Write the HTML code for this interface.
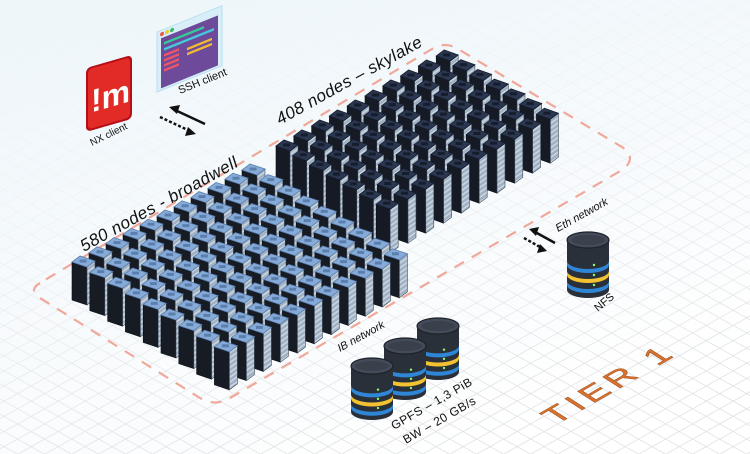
<!DOCTYPE html>
<html><head><meta charset="utf-8"><style>
html,body{margin:0;padding:0;background:#fff;}
svg{display:block;font-family:"Liberation Sans",sans-serif;}
</style></head><body>
<svg id="s" width="750" height="454" viewBox="0 0 750 454" xmlns="http://www.w3.org/2000/svg">
<defs>
<linearGradient id="bg" x1="0" y1="0" x2="0.6" y2="1">
<stop offset="0" stop-color="#e1f0f8"/><stop offset="0.5" stop-color="#f5f9fc"/><stop offset="1" stop-color="#ffffff"/>
</linearGradient>
<pattern id="str" width="4" height="4" patternUnits="userSpaceOnUse" patternTransform="rotate(-35)">
<rect width="4" height="4" fill="#9fb0c2"/><rect width="4" height="1.6" fill="#c9d5e0"/>
</pattern>
<linearGradient id="fade" x1="0" y1="0" x2="0.3" y2="1">
<stop offset="0" stop-color="#eef6fa" stop-opacity="1"/><stop offset="0.45" stop-color="#f6fafc" stop-opacity="0.7"/><stop offset="1" stop-color="#fff" stop-opacity="0"/>
</linearGradient>
</defs>
<rect width="750" height="454" fill="url(#bg)"/>
<g id="grid" stroke="#dfe2e5" stroke-width="0.8"></g>
<rect width="750" height="454" fill="url(#fade)"/>
<path d="M40,283 Q28,290 40,298 L200,398 Q215,407 230,398 L622,170 Q638,158 622,147 L458,49 Q445,41 432,49 Z" fill="none" stroke="#f0a89a" stroke-width="2.2" stroke-dasharray="11 9"/>
<g id="racks"></g>

<!-- labels -->
<text transform="translate(84,252) rotate(-29)" font-size="17" font-style="italic" fill="#111" letter-spacing="0.5">580 nodes - broadwell</text>
<text transform="translate(280,125) rotate(-29)" font-size="17" font-style="italic" fill="#111" letter-spacing="0.5">408 nodes – skylake</text>
<text transform="translate(340,352) rotate(-29)" font-size="11" font-style="italic" fill="#111">IB network</text>
<text transform="translate(558,232) rotate(-29)" font-size="11" font-style="italic" fill="#111">Eth network</text>
<text transform="translate(598,312) rotate(-40)" font-size="11" fill="#111">NFS</text>
<text transform="translate(394,430) rotate(-30)" font-size="12" fill="#111" letter-spacing="0.5">GPFS – 1,3 PiB</text>
<text transform="translate(406,444) rotate(-30)" font-size="12" fill="#111" letter-spacing="0.5">BW – 20 GB/s</text>
<text transform="matrix(0.866,-0.5,0.7,0.45,556,425)" font-size="36" fill="#d9722e" letter-spacing="5" stroke="#9a4a18" stroke-width="0.6">TIER 1</text>

<!-- NX client -->
<g transform="translate(86,62) skewY(-16)">
<rect x="0" y="6" width="46" height="64" rx="5" fill="#b40f18"/>
<rect x="2" y="8" width="42" height="60" rx="4" fill="#e22a26"/>
<text x="5" y="52" font-size="32" font-weight="bold" fill="#fff">!m</text>
</g>
<text transform="translate(92,146) rotate(-26)" font-size="10" fill="#111">NX client</text>
<!-- SSH client -->
<g transform="translate(157,32) skewY(-22)">
<rect x="0" y="0" width="65" height="60" fill="#d8eef8" stroke="#b7dff0"/>
<rect x="4" y="8" width="57" height="50" fill="#6d4a9a"/>
<circle cx="5" cy="4" r="2" fill="#e54"/><circle cx="10" cy="4" r="2" fill="#ec3"/><circle cx="15" cy="4" r="2" fill="#3b6"/>
<rect x="7" y="13" width="40" height="2.5" fill="#3c9"/>
<rect x="7" y="19" width="50" height="2.5" fill="#4cd"/>
<rect x="7" y="25" width="15" height="2.5" fill="#e56"/><rect x="7" y="30" width="15" height="2.5" fill="#e56"/><rect x="7" y="35" width="15" height="2.5" fill="#e56"/><rect x="7" y="40" width="15" height="2.5" fill="#e56"/>
<rect x="30" y="28" width="25" height="2.5" fill="#eb3"/><rect x="30" y="33" width="25" height="2.5" fill="#eb3"/>
</g>
<text transform="translate(180,94) rotate(-22)" font-size="11" fill="#111">SSH client</text>
<!-- arrows -->
<g stroke="#111" stroke-width="2.5" fill="#111">
<line x1="175" y1="110" x2="205" y2="124"/><polygon points="169,107 180,105 177,114" stroke="none"/>
<line x1="160" y1="117" x2="190" y2="131" stroke-dasharray="3 2"/><polygon points="196,134 185,136 188,127" stroke="none"/>
<line x1="535" y1="232" x2="555" y2="243"/><polygon points="529,229 539,227 536,236" stroke="none"/>
<line x1="524" y1="238" x2="540" y2="247" stroke-dasharray="3 2"/><polygon points="547,251 537,253 540,244" stroke="none"/>
</g>
<g id="dbs"></g>
</svg>
<script>
var NS="http://www.w3.org/2000/svg";
function el(p,t,a){var e=document.createElementNS(NS,t);for(var k in a)e.setAttribute(k,a[k]);p.appendChild(e);return e;}
var g=document.getElementById('grid');
for(var c=-900;c<1500;c+=27){
 el(g,'line',{x1:c,y1:0,x2:c+820,y2:460});
 el(g,'line',{x1:c,y1:454,x2:c+820,y2:454-460});
}
var R=document.getElementById('racks');
function pts(a){return a.map(function(p){return p[0].toFixed(1)+','+p[1].toFixed(1)}).join(' ');}
function rack(F,a,b,h,top,topd,front){
 var x=F[0],y=F[1];
 var A=[x,y],B=[x+a[0],y+a[1]],C=[x+a[0]+b[0],y+a[1]+b[1]],D=[x+b[0],y+b[1]];
 el(R,'polygon',{points:pts([A,B,[B[0],B[1]+h],[A[0],A[1]+h]]),fill:front,stroke:'#0b0f16','stroke-width':0.6});
 el(R,'polygon',{points:pts([B,C,[C[0],C[1]+h],[B[0],B[1]+h]]),fill:'url(#str)',stroke:'#3a4656','stroke-width':0.6});
 el(R,'polygon',{points:pts([A,B,C,D]),fill:top,stroke:topd,'stroke-width':0.8});
 var mx=(A[0]+C[0])/2,my=(A[1]+C[1])/2;
 el(R,'rect',{x:mx-4,y:my-2,width:7,height:3,fill:topd});
}
function block(F0,di,dj,ni,nj,a,b,h,top,topd,front){
 var L=[];
 for(var i=0;i<ni;i++)for(var j=0;j<nj;j++)L.push([F0[0]+i*di[0]+j*dj[0],F0[1]+i*di[1]+j*dj[1]]);
 L.sort(function(p,q){return p[1]-q[1]});
 L.forEach(function(F){rack(F,a,b,h,top,topd,front);});
}
block([276,146],[17.8,-10],[16.7,9.7],10,7,[14,5],[8,-6],44,'#2b3650','#161d2c','#151a24');
block([72,262],[17,-9.2],[17.8,10.6],11,9,[15,5],[8,-6],38,'#86abd8','#5b7fad','#161b24');
var D=document.getElementById('dbs');
function db(cx,ty,by){
 var rx=21,ry=8;
 el(D,'path',{d:'M'+(cx-rx)+','+ty+' L'+(cx-rx)+','+by+' A'+rx+','+ry+' 0 0 0 '+(cx+rx)+','+by+' L'+(cx+rx)+','+ty+' Z',fill:'#2a303a'});
 var hgt=by-ty;
 [[0.42,'#2f86d6'],[0.62,'#f2c230'],[0.82,'#2f86d6']].forEach(function(s){
  var yy=ty+hgt*s[0];
  el(D,'path',{d:'M'+(cx-rx)+','+yy+' A'+rx+','+ry+' 0 0 0 '+(cx+rx)+','+yy+' L'+(cx+rx)+','+(yy+4)+' A'+rx+','+ry+' 0 0 1 '+(cx-rx)+','+(yy+4)+' Z',fill:s[1]});
  el(D,'circle',{cx:cx+6,cy:yy-hgt*0.08+ry,r:1.2,fill:'#8f6'});
 });
 el(D,'ellipse',{cx:cx,cy:ty,rx:rx,ry:ry,fill:'#444c5a',stroke:'#1d222a','stroke-width':1.2});
 el(D,'ellipse',{cx:cx,cy:ty,rx:rx-4,ry:ry-3,fill:'#3a414d'});
}
db(588,240,290);
db(438,326,372);
db(405,346,392);
db(372,366,412);
</script>
</body></html>
